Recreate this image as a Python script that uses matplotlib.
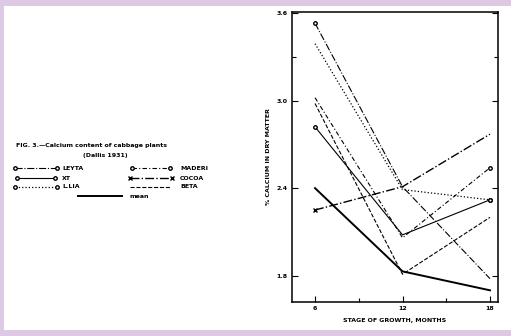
import matplotlib
matplotlib.use("Agg")
import matplotlib.pyplot as plt
from matplotlib.lines import Line2D
from matplotlib.patches import Rectangle

# stage of growth, months
stages = [6, 12, 18]

# % calcium in dry matter
leyta = [3.53, 2.41, 1.78]
lalia = [3.39, 2.39, 2.32]
maderi = [3.02, 2.06, 2.54]
beta = [2.98, 1.81, 2.20]
xt = [2.82, 2.08, 2.32]
mean = [2.40, 1.83, 1.70]
cocoa = [2.25, 2.41, 2.77]

yticks = [1.8, 2.4, 3.0, 3.6]
ytick_labels = ["1.8", "2.4", "3.0", "3.6"]
xtick_labels = ["6", "12", "18"]

series = [
    ("LEYTA", leyta, dict(ls="-.", lw=0.8, marker="o", ms=2.5, mfc="white", markevery=[0])),
    ("L.LIA", lalia, dict(ls=":", lw=0.9, marker="o", ms=2.5, mfc="white", markevery=[2])),
    ("MADERI", maderi, dict(ls=(0, (4, 2, 1, 2)), lw=0.8, marker="o", ms=2.5, mfc="white", markevery=[2])),
    ("BETA", beta, dict(ls="--", lw=0.8)),
    ("XT", xt, dict(ls="-", lw=0.8, marker="o", ms=2.5, mfc="white", markevery=[0, 2])),
    ("mean", mean, dict(ls="-", lw=1.4)),
    ("COCOA", cocoa, dict(ls="-.", lw=1.0, marker="x", ms=2.5, markevery=[0])),
]

fig = plt.figure(figsize=(5.11, 3.36), dpi=100, facecolor="#ddc9e4")
fig.patches.append(Rectangle((4 / 511, 6 / 336), 507 / 511, 324 / 336,
                             transform=fig.transFigure, facecolor="white",
                             edgecolor="none", zorder=-10))

ax = fig.add_axes([292 / 511, 34 / 336, 206 / 511, 290 / 336])
ax.set_zorder(5)
ax.set_facecolor("white")
for name, vals, st in series:
    ax.plot(stages, vals, color="black", **st)

ax.set_xlim(4.42, 18.55)
ax.set_ylim(1.62, 3.607)
ax.set_xticks(stages)
ax.set_xticklabels(xtick_labels)
ax.set_xticks([9, 15], minor=True)
ax.set_yticks(yticks)
ax.set_yticklabels(ytick_labels)
ax.set_yticks([3.3], minor=True)
ax.tick_params(direction="in", length=4, width=0.8, labelsize=4.5, pad=3,
               right=True, top=False)
ax.tick_params(which="minor", direction="in", length=3, width=0.8, right=True)
for t in ax.get_xticklabels() + ax.get_yticklabels():
    t.set_fontweight("bold")
for s in ax.spines.values():
    s.set_linewidth(1.1)
ax.set_xlabel("STAGE OF GROWTH, MONTHS", fontsize=4.5, fontweight="bold", labelpad=5)
ax.set_ylabel("% CALCIUM IN DRY MATTER", fontsize=4.5, fontweight="bold", labelpad=4)

# caption and key on the left
fig.text(16 / 511, 1 - 146 / 336, "FIG. 3.\u2014Calcium content of cabbage plants",
         fontsize=4.5, fontweight="bold", va="center")
fig.text(105 / 511, 1 - 156 / 336, "(Dallis 1931)", fontsize=4.5,
         fontweight="bold", va="center", ha="center")

style = {name: st for name, vals, st in series}
key = [
    ("LEYTA", 15, 57, 62, 168), ("XT", 17, 55, 62, 178), ("L.LIA", 15, 57, 62, 187),
    ("MADERI", 132, 170, 180, 168), ("COCOA", 130, 172, 180, 178), ("BETA", 130, 170, 180, 187),
    ("mean", 78, 122, 130, 196),
]
for name, x0, x1, tx, y in key:
    st = dict(style[name])
    if "markevery" in st:
        st["markevery"] = [0, 2]
    yy = 1 - y / 336
    fig.add_artist(Line2D([x0 / 511, (x0 + x1) / 2 / 511, x1 / 511], [yy, yy, yy],
                          color="black", transform=fig.transFigure, **st))
    fig.text(tx / 511, yy, name, fontsize=4.5, fontweight="bold", va="center")

fig.savefig("out.png", dpi=100, facecolor=fig.get_facecolor())
